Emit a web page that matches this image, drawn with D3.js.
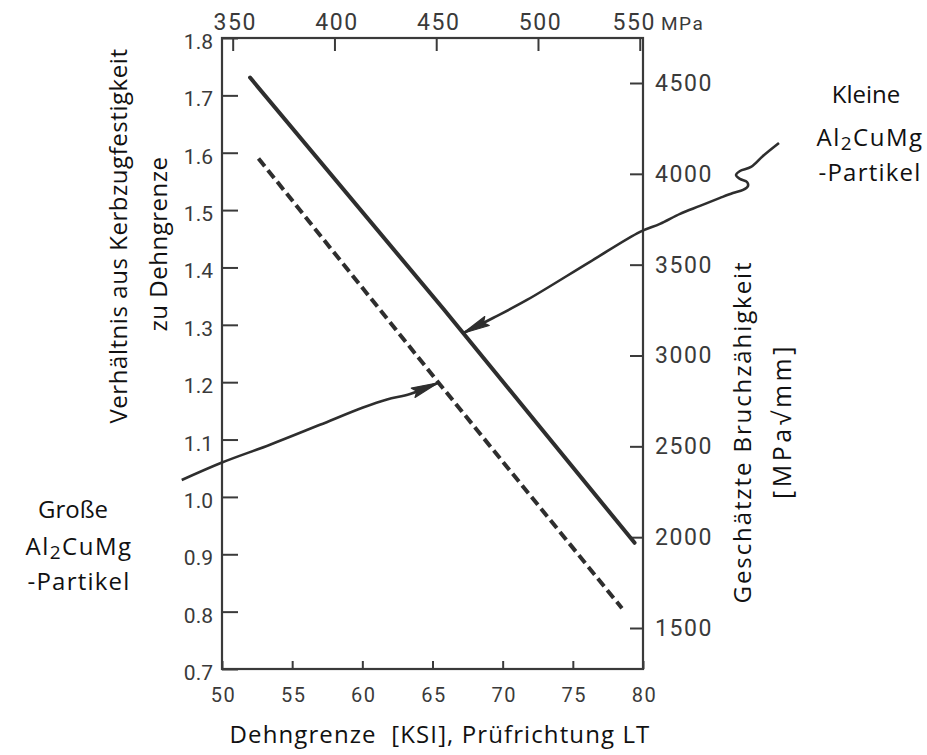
<!DOCTYPE html>
<html>
<head>
<meta charset="utf-8">
<script src="https://cdn.jsdelivr.net/npm/d3@7"></script>
<style>
  html, body { margin: 0; padding: 0; background: #fff; }
  svg { display: block; }
  .tick text { font-family: Roboto, "DejaVu Sans", sans-serif; fill: #3a3a3a; }
  .title { font-family: "Open Sans", "Noto Sans", sans-serif; fill: #111; }
</style>
</head>
<body>
<svg id="chart" width="927" height="755"></svg>
<script>
// Yield strength axis (bottom, KSI) and its MPa equivalent (top)
const ksiTicks = [50, 55, 60, 65, 70, 75, 80];
const mpaTicks = [350, 400, 450, 500, 550];
// Notch tensile strength / yield strength ratio (left)
const ratioTicks = [0.7, 0.8, 0.9, 1.0, 1.1, 1.2, 1.3, 1.4, 1.5, 1.6, 1.7, 1.8];
// Estimated fracture toughness (right)
const toughTicks = [1500, 2000, 2500, 3000, 3500, 4000, 4500];

// Trend lines: [ksi, ratio]
const smallParticles = [[52.0, 1.731], [65.8, 1.327], [79.4, 0.920]];
const largeParticles = [[52.6, 1.590], [65.5, 1.197], [78.5, 0.806]];

// Annotation leaders: [ksi, ratio]
const largeLeader = [
  [47.13, 1.0295], [50.00, 1.060], [53.42, 1.091], [56.98, 1.1257],
  [60.05, 1.1559], [61.76, 1.170], [63.40, 1.1794], [65.41, 1.199]
];
const smallLeader = [
  [89.69, 1.617], [88.55, 1.5944], [87.70, 1.5752],
  [86.91, 1.5682], [86.63, 1.5612], [86.91, 1.5543], [87.41, 1.5490],
  [87.48, 1.5420], [87.13, 1.5351], [86.41, 1.5298],
  [85.49, 1.5213], [84.06, 1.5073], [82.64, 1.4934], [81.21, 1.4759],
  [79.79, 1.4620], [76.22, 1.4098], [71.73, 1.3433], [69.31, 1.3119], [67.17, 1.2853]
];

const svg = d3.select("#chart");
const plotLeft = 222, plotRight = 643, plotTop = 38, plotBottom = 669;

const x = d3.scaleLinear().domain([50, 80]).range([plotLeft, plotRight]);
const xMpa = d3.scaleLinear().domain([50 * 6.895, 80 * 6.895]).range([plotLeft, plotRight]);
const y = d3.scaleLinear().domain([0.7, 1.8]).range([plotBottom, plotTop]);
const yK = d3.scaleLinear().domain([1500, 4500]).range([628, 83]);

const ink = "#2e2e2e";

// Frame
svg.append("rect")
  .attr("x", plotLeft).attr("y", plotTop)
  .attr("width", plotRight - plotLeft).attr("height", plotBottom - plotTop)
  .attr("fill", "none").attr("stroke", "#3a3a3a").attr("stroke-width", 2.2);

function styleAxis(g) {
  g.select(".domain").remove();
  g.selectAll(".tick line").attr("stroke", "#3a3a3a").attr("stroke-width", 2);
}

// Bottom axis (KSI)
svg.append("g").attr("transform", `translate(0,${plotBottom})`)
  .call(d3.axisBottom(x).tickValues(ksiTicks).tickSize(-8).tickPadding(19).tickFormat(d3.format("d")))
  .call(styleAxis)
  .call(g => g.selectAll(".tick text").attr("font-size", 20).attr("letter-spacing", 1.5).attr("dx", 1));

// Top axis (MPa)
svg.append("g").attr("transform", `translate(0,${plotTop})`)
  .call(d3.axisTop(xMpa).tickValues(mpaTicks).tickSize(-13).tickPadding(8).tickFormat(d3.format("d")))
  .call(styleAxis)
  .call(g => g.selectAll(".tick text").attr("font-size", 23).attr("letter-spacing", 1.5)
    .attr("dx", d => d === 550 ? -6 : 2));

svg.append("text")
  .attr("x", 661).attr("y", 30)
  .attr("font-family", "Roboto, sans-serif").attr("font-size", 19)
  .attr("letter-spacing", 1.5).attr("fill", "#3a3a3a")
  .text("MPa");

// Left axis (ratio)
svg.append("g").attr("transform", `translate(${plotLeft},0)`)
  .call(d3.axisLeft(y).tickValues(ratioTicks).tickSize(-16).tickPadding(9).tickFormat(d3.format(".1f")))
  .call(styleAxis)
  .call(g => g.selectAll(".tick text").attr("font-size", 21).attr("dy", "0.5em"));

// Right axis (fracture toughness)
svg.append("g").attr("transform", `translate(${plotRight},0)`)
  .call(d3.axisRight(yK).tickValues(toughTicks).tickSize(-13).tickPadding(12).tickFormat(d3.format("d")))
  .call(styleAxis)
  .call(g => g.selectAll(".tick text").attr("font-size", 23).attr("letter-spacing", 1.6));

// Trend lines
const line = d3.line().x(d => x(d[0])).y(d => y(d[1]));
svg.append("path").datum(smallParticles)
  .attr("d", line).attr("fill", "none")
  .attr("stroke", ink).attr("stroke-width", 4).attr("stroke-linecap", "round");
svg.append("path").datum(largeParticles)
  .attr("d", line).attr("fill", "none")
  .attr("stroke", ink).attr("stroke-width", 4).attr("stroke-dasharray", "10,5");

// Leaders with arrowheads
const curve = d3.line().x(d => x(d[0])).y(d => y(d[1])).curve(d3.curveCatmullRom.alpha(0.5));
function leader(pts) {
  svg.append("path").datum(pts)
    .attr("d", curve).attr("fill", "none")
    .attr("stroke", ink).attr("stroke-width", 2.6).attr("stroke-linejoin", "round");
  const [tx, ty] = [x(pts[pts.length - 1][0]), y(pts[pts.length - 1][1])];
  const [bx, by] = [x(pts[pts.length - 2][0]), y(pts[pts.length - 2][1])];
  const ang = Math.atan2(ty - by, tx - bx) * 180 / Math.PI;
  svg.append("path")
    .attr("transform", `translate(${tx},${ty}) rotate(${ang})`)
    .attr("d", "M0,0 L-27,-5 L-23,0 L-27,5 Z")
    .attr("fill", ink).attr("stroke", ink).attr("stroke-width", 1.2).attr("stroke-linejoin", "round");
}
leader(largeLeader);
leader(smallLeader);

// Axis titles
svg.append("text").attr("class", "title")
  .attr("transform", "translate(127,236) rotate(-90)")
  .attr("text-anchor", "middle").attr("font-size", 24).attr("letter-spacing", 0.55)
  .text("Verhältnis aus Kerbzugfestigkeit");
svg.append("text").attr("class", "title")
  .attr("transform", "translate(167,244) rotate(-90)")
  .attr("text-anchor", "middle").attr("font-size", 24).attr("letter-spacing", 0.5)
  .text("zu Dehngrenze");

svg.append("text").attr("class", "title")
  .attr("transform", "translate(751,432) rotate(-90)")
  .attr("text-anchor", "middle").attr("font-size", 24).attr("letter-spacing", 1.9)
  .text("Geschätzte Bruchzähigkeit");
svg.append("text").attr("class", "title")
  .attr("transform", "translate(791,421) rotate(-90)")
  .attr("text-anchor", "middle").attr("font-size", 25).attr("letter-spacing", 3.5)
  .text("[MPa√mm]");

svg.append("text").attr("class", "title")
  .attr("x", 440).attr("y", 743)
  .attr("text-anchor", "middle").attr("font-size", 24).attr("letter-spacing", 1.1)
  .attr("xml:space", "preserve")
  .text("Dehngrenze  [KSI], Prüfrichtung LT");

// Particle labels
function particleLabel(cx, firstDx, base, gap2, gap3, first) {
  const g = svg.append("g").attr("class", "title").attr("font-size", 24).attr("text-anchor", "middle");
  g.append("text").attr("x", cx + firstDx).attr("y", base).text(first);
  const t = g.append("text").attr("x", cx).attr("y", base + gap2).attr("letter-spacing", 1.5);
  t.append("tspan").text("Al");
  t.append("tspan").attr("font-size", 19).attr("dy", 4).text("2");
  t.append("tspan").attr("dy", -4).text("CuMg");
  g.append("text").attr("x", cx).attr("y", base + gap3).attr("letter-spacing", 1.2).text("-Partikel");
}
particleLabel(870, -4, 103, 43, 78, "Kleine");
particleLabel(79, -6, 518, 37, 72, "Große");
</script>
</body>
</html>
